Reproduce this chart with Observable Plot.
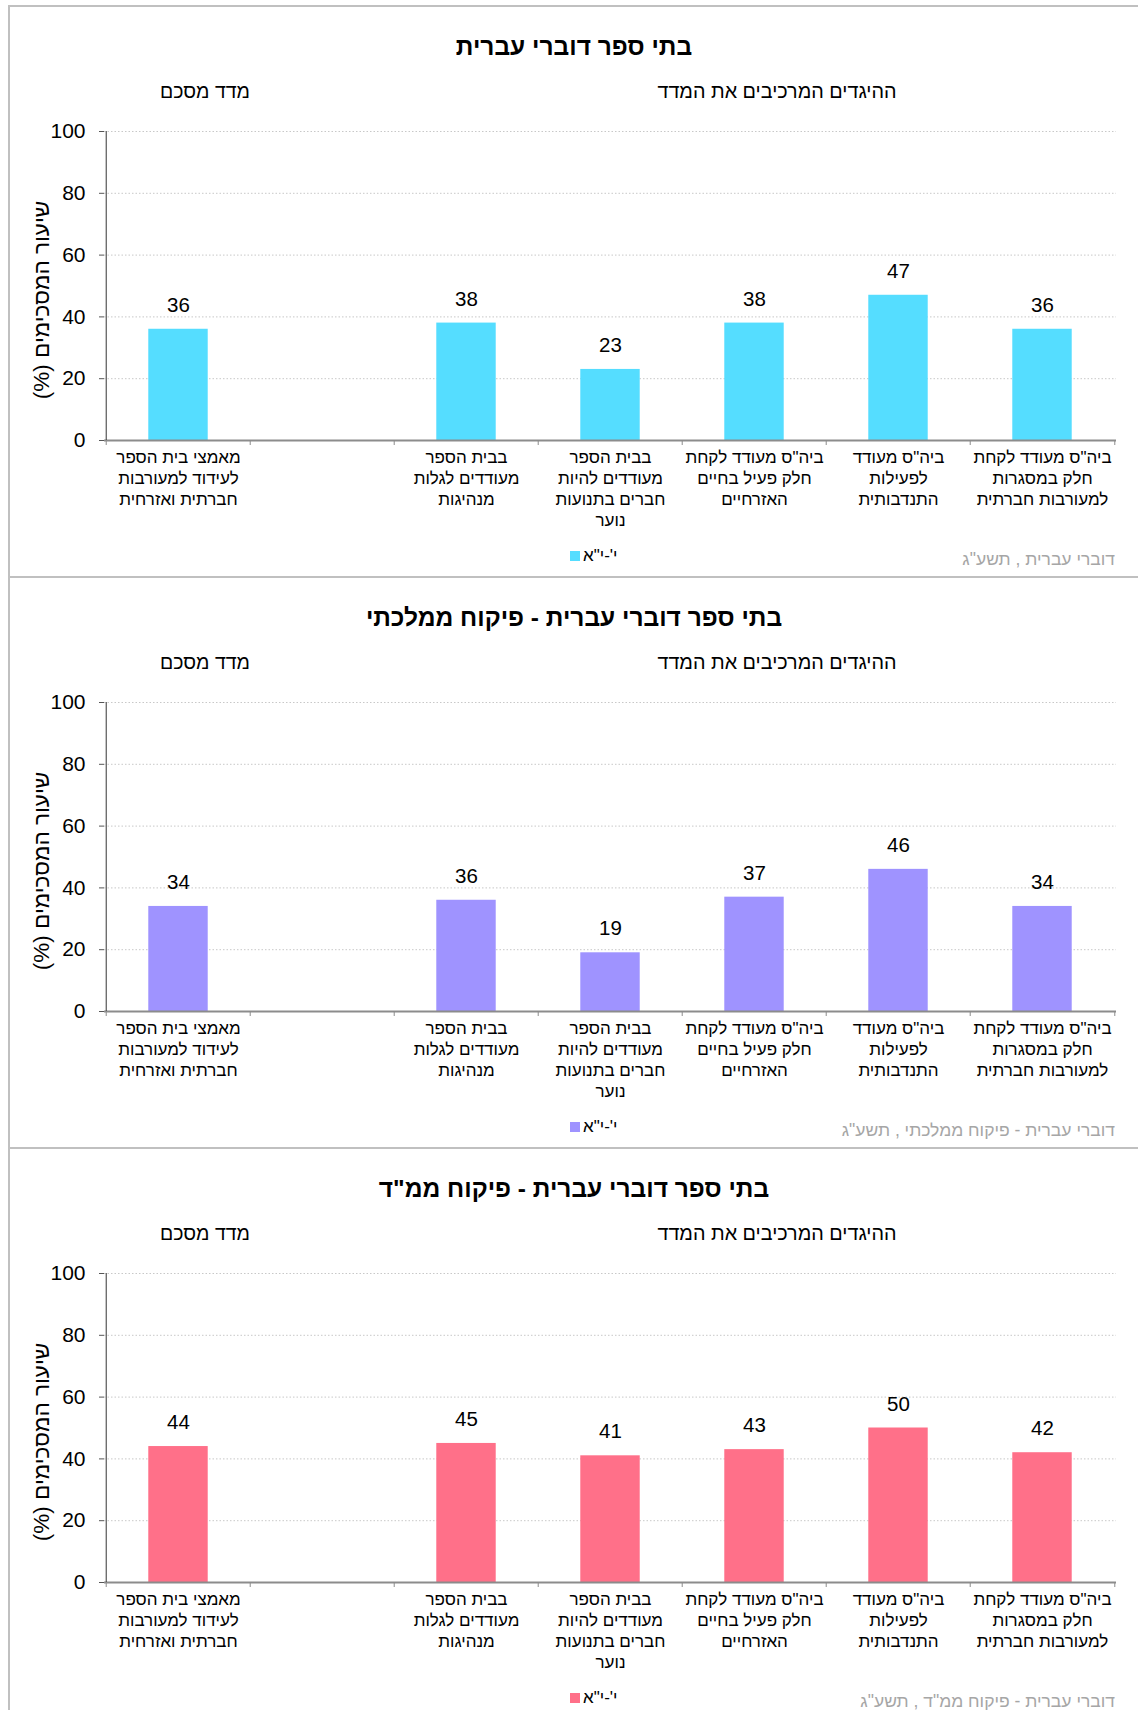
<!DOCTYPE html>
<html lang="he">
<head>
<meta charset="utf-8">
<script src="https://cdn.jsdelivr.net/npm/d3@7"></script>
<script src="https://cdn.jsdelivr.net/npm/@observablehq/plot@0.6"></script>
<style>
  html, body { margin: 0; padding: 0; background: #fff; }
  body { width: 1138px; height: 1710px; position: relative; overflow: hidden;
         font-family: "Liberation Sans", Arial, sans-serif; color: #000; }
  .panel { position: absolute; left: 0; width: 1138px; height: 571px; }
  .frame { position: absolute; left: 8px; top: 0; right: 0; bottom: 0;
           border-top: 2px solid #c0c0c0; border-left: 2px solid #c0c0c0; }
  .title { position: absolute; left: 10px; right: 0; top: 28px; height: 28px; line-height: 28px;
           text-align: center; font-weight: bold; font-size: 24.5px; }
  .sub { position: absolute; top: 74px; height: 24px; line-height: 24px;
         text-align: center; white-space: nowrap; }
  .chart { position: absolute; left: 0; top: 100px; }
  .legend { position: absolute; left: 570px; top: 540px; height: 22px; display: flex;
            align-items: center; direction: ltr; font-size: 17px; }
  .legend .sw { width: 10px; height: 10px; margin-right: 3px; }
  .source { position: absolute; right: 23px; top: 543px; height: 22px; line-height: 22px;
            font-size: 17.5px; color: #a6a6a6; white-space: nowrap; }
</style>
</head>
<body>
<script>
// ---- data ----
const categories = [
  "מאמצי בית הספר\nלעידוד למעורבות\nחברתית ואזרחית",
  "",
  "בבית הספר\nמעודדים לגלות\nמנהיגות",
  "בבית הספר\nמעודדים להיות\nחברים בתנועות\nנוער",
  "ביה\"ס מעודד לקחת\nחלק פעיל בחיים\nהאזרחיים",
  "ביה\"ס מעודד\nלפעילות\nהתנדבותית",
  "ביה\"ס מעודד לקחת\nחלק במסגרות\nלמעורבות חברתית"
];
const valuesHebrew = [36, null, 38, 23, 38, 47, 36];
const valuesState = [34, null, 36, 19, 37, 46, 34];
const valuesReligious = [44, null, 45, 41, 43, 50, 42];
const yTicks = [0, 20, 40, 60, 80, 100];
const titles = [
  "בתי ספר דוברי עברית",
  "בתי ספר דוברי עברית - פיקוח ממלכתי",
  "בתי ספר דוברי עברית - פיקוח ממ\"ד"
];
const sources = [
  "דוברי עברית , תשע\"ג",
  "דוברי עברית - פיקוח ממלכתי , תשע\"ג",
  "דוברי עברית - פיקוח ממ\"ד , תשע\"ג"
];
const colors = ["#55ddff", "#9f93ff", "#ff7089"];
const seriesName = "י'-י\"א";
const subtitleIndex = "מדד מסכם";
const subtitleItems = "ההיגדים המרכיבים את המדד";
const yLabel = "שיעור המסכימים (%)\u200F";

// ---- layout ----
const W = 1138, ML = 104, MR = 22, MT = 26, PH = 309, MB = 90;
const H = MT + PH + MB;
const bw = (W - ML - MR) / categories.length;
const barW = 60;
const inset = (bw - barW) / 2;
const panelTops = [5, 576, 1147];
const font = '"Liberation Sans", Arial, sans-serif';

const series = [valuesHebrew, valuesState, valuesReligious];

series.forEach((vals, i) => {
  const panel = document.createElement("div");
  panel.className = "panel";
  panel.style.top = panelTops[i] + "px";
  panel.innerHTML = `
    <div class="frame"></div>
    <div class="title" dir="rtl"></div>
    <div class="sub" dir="rtl" style="left:145px;width:120px;font-size:19.5px"></div>
    <div class="sub" dir="rtl" style="left:607px;width:340px;font-size:19.8px"></div>
    <div class="chart"></div>
    <div class="legend"><div class="sw"></div><span dir="rtl"></span></div>
    <div class="source" dir="rtl"></div>`;
  panel.querySelector(".title").textContent = titles[i];
  const subs = panel.querySelectorAll(".sub");
  subs[0].textContent = subtitleIndex;
  subs[1].textContent = subtitleItems;
  panel.querySelector(".legend .sw").style.background = colors[i];
  panel.querySelector(".legend span").textContent = seriesName;
  panel.querySelector(".source").textContent = sources[i];
  document.body.appendChild(panel);

  const data = categories.map((c, j) => ({cat: c, value: vals[j]})).filter(d => d.value != null);

  const chart = Plot.plot({
    width: W,
    height: H,
    marginLeft: ML,
    marginRight: MR,
    marginTop: MT,
    marginBottom: MB,
    style: {fontFamily: font, fontSize: "20px", color: "#000", background: "transparent", overflow: "visible"},
    x: {type: "band", domain: categories, padding: 0},
    y: {domain: [0, 100]},
    marks: [
      Plot.gridY(yTicks.filter(t => t > 0), {stroke: "#c8c8c8", strokeOpacity: 1, strokeDasharray: "1.5,2"}),
      Plot.barY(data, {x: "cat", y: "value", fill: colors[i], insetLeft: inset, insetRight: inset}),
      Plot.text(data, {x: "cat", y: "value", text: d => String(d.value), dy: -24, fontSize: 20.5, fill: "#000"}),
      Plot.ruleY([0], {stroke: "#8c8c8c", strokeWidth: 2}),
      Plot.ruleX([categories[0]], {dx: -bw / 2, stroke: "#333"}),
      Plot.axisY({ticks: yTicks, tickSize: 5, tickPadding: 14, fontSize: 21, label: null, stroke: "#555", fill: "#000"}),
      Plot.axisX({tickSize: 0, tickPadding: 7.5, fontSize: 17, lineHeight: 1.24, label: null, fill: "#000",
                  tickFormat: d => d, textOverflow: null}),
      Plot.axisX({tickSize: 5, tickFormat: () => "", label: null, dx: -bw / 2, stroke: "#8c8c8c"}),
      Plot.axisX({ticks: [categories[categories.length - 1]], tickSize: 5, tickFormat: () => "", label: null, dx: bw / 2, stroke: "#8c8c8c"}),
      Plot.text([yLabel], {frameAnchor: "left", textAnchor: "middle", dx: -63, dy: 14, rotate: -90, fontSize: 22.5, fill: "#000"})
    ]
  });
  panel.querySelector(".chart").appendChild(chart);
});
</script>
</body>
</html>
